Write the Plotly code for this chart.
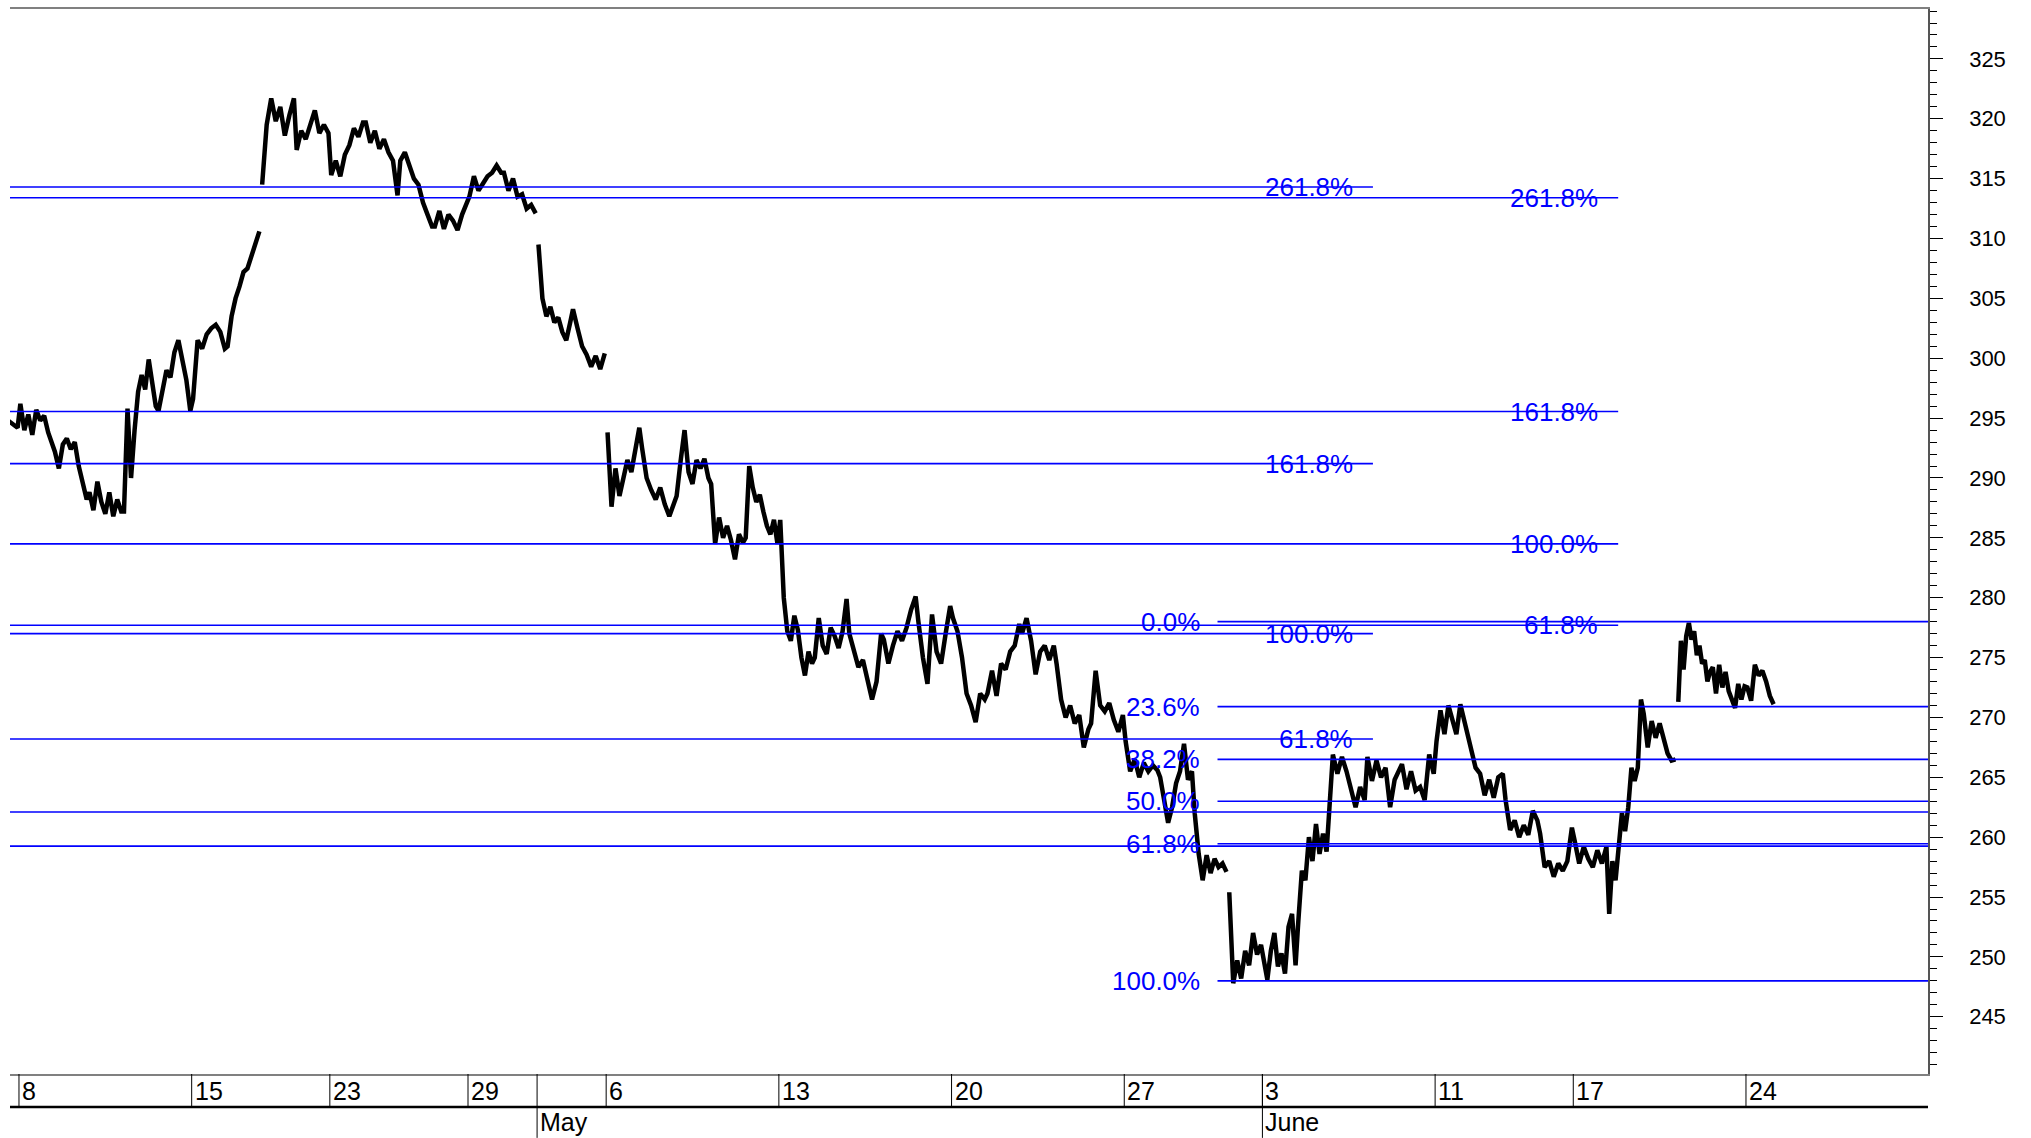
import plotly.graph_objects as go
from datetime import date

# ---------------- data ----------------
trading_days = [
    "2019-04-05", "2019-04-08", "2019-04-09", "2019-04-10", "2019-04-11", "2019-04-12",
    "2019-04-15", "2019-04-16", "2019-04-17", "2019-04-18",
    "2019-04-23", "2019-04-24", "2019-04-25", "2019-04-26",
    "2019-04-29", "2019-04-30", "2019-05-02", "2019-05-03",
    "2019-05-06", "2019-05-07", "2019-05-08", "2019-05-09", "2019-05-10",
    "2019-05-13", "2019-05-14", "2019-05-15", "2019-05-16", "2019-05-17",
    "2019-05-20", "2019-05-21", "2019-05-22", "2019-05-23", "2019-05-24",
    "2019-05-27", "2019-05-28", "2019-05-29", "2019-05-31",
    "2019-06-03", "2019-06-04", "2019-06-05", "2019-06-06", "2019-06-07",
    "2019-06-11", "2019-06-12", "2019-06-13", "2019-06-14",
    "2019-06-17", "2019-06-18", "2019-06-19", "2019-06-20", "2019-06-21",
    "2019-06-24", "2019-06-25", "2019-06-26", "2019-06-27", "2019-06-28",
]

# intraday price path, one list per session
week_apr05 = [[294.6, 295.2, 294.2]]
week_apr08 = [
    [296.2, 294.0, 295.3, 293.6, 295.7, 294.8, 295.2, 293.8, 293.0],
    [292.2, 290.8, 292.8, 293.3, 292.4, 293.0, 291.0, 289.6, 288.2],
    [288.8, 287.3, 289.7, 288.0, 287.0, 288.8, 286.8, 288.2, 287.2],
    [287.2, 295.8, 290.0, 294.0, 297.2, 298.6, 297.4, 299.9, 298.2, 296.0],
    [295.6, 297.5, 299.0, 298.4, 300.5, 301.5, 300.0, 298.2, 295.6],
]
week_apr15 = [
    [296.6, 301.5, 300.8, 302.0, 302.5, 302.8, 302.2, 300.8],
    [301.0, 303.5, 305.0, 306.0, 307.2, 307.5, 308.6, 309.5, 310.6],
    [314.5, 319.5, 321.7, 319.8, 321.0, 318.6, 320.3, 321.7],
    [317.4, 319.0, 318.3, 319.5, 320.7, 318.8, 319.5, 318.8],
]
week_apr23 = [
    [315.3, 316.5, 315.2, 317.0, 317.8, 319.2, 318.5, 319.7],
    [319.7, 318.0, 319.0, 317.5, 318.3, 317.2, 316.5, 313.6],
    [316.5, 317.2, 316.0, 315.0, 314.5, 313.0, 312.0, 311.0],
    [311.0, 312.3, 310.8, 312.0, 311.5, 310.7, 312.0, 312.8],
]
week_apr29 = [
    [313.5, 315.2, 314.0, 314.6, 315.2, 315.5, 316.1, 315.5],
    [315.5, 314.0, 315.0, 313.5, 313.7, 312.5, 312.8, 312.1],
    [309.5, 305.0, 303.5, 304.3, 303.0, 303.4, 302.2, 301.5, 303.0],
    [304.1, 302.5, 301.0, 300.3, 299.3, 300.2, 299.1, 300.4],
]
week_may06 = [
    [293.8, 287.6, 290.8, 288.5, 290.0, 291.5, 290.5, 292.5, 294.2],
    [292.5, 290.0, 289.0, 288.2, 289.2, 287.8, 286.8, 288.0],
    [288.5, 291.4, 294.0, 290.5, 289.5, 291.5, 290.8, 291.6, 290.0],
    [289.5, 284.5, 286.7, 285.0, 286.0, 284.8, 283.2, 285.3, 284.6],
    [285.0, 291.0, 289.2, 288.0, 288.6, 287.2, 286.0, 285.3, 286.5, 284.5],
]
week_may13 = [
    [286.5, 280.0, 277.2, 276.4, 278.5, 277.3, 275.0, 273.5, 275.5, 274.5],
    [275.0, 278.3, 276.0, 275.3, 277.5, 276.8, 275.8, 277.2, 279.9],
    [277.0, 275.5, 274.2, 274.8, 273.3, 271.5, 273.0, 277.0],
    [276.5, 274.5, 276.0, 277.2, 276.4, 277.5, 279.0, 280.1],
    [278.0, 275.0, 272.8, 278.6, 275.5, 274.5, 277.0, 279.3],
]
week_may20 = [
    [278.3, 277.2, 275.0, 272.0, 271.0, 269.6, 272.0, 271.5],
    [272.0, 273.9, 271.8, 274.5, 274.0, 275.5, 276.0, 277.8],
    [277.0, 278.3, 276.4, 273.6, 275.5, 276.0, 274.8, 276.0],
    [274.5, 271.5, 270.0, 271.0, 269.5, 270.2, 267.5, 269.0],
    [269.5, 273.9, 271.0, 270.5, 271.2, 269.8, 268.8, 270.2],
]
week_may27 = [
    [268.0, 265.5, 266.5, 265.0, 266.2, 265.5, 266.0, 265.6],
    [265.0, 263.0, 261.2, 262.5, 264.5, 265.5, 267.8, 264.8, 265.5],
    [262.0, 258.6, 256.4, 258.5, 257.0, 258.2, 257.5, 257.8, 257.1],
    [255.4, 247.8, 249.7, 248.2, 250.5, 249.3, 252.0, 250.2, 251.0],
]
week_jun03 = [
    [249.7, 248.1, 250.5, 252.0, 249.2, 250.3, 248.6, 252.5, 253.6, 249.3],
    [253.0, 257.2, 256.4, 260.0, 258.0, 261.1, 258.6, 260.3, 258.8, 263.3],
    [266.9, 265.3, 266.7, 265.5, 264.0, 262.5, 264.2, 263.1],
    [266.7, 264.7, 266.4, 265.0, 265.8, 262.5, 264.8, 265.5],
    [266.1, 264.0, 265.5, 263.9, 264.2, 263.1, 266.9, 265.3],
]
week_jun11 = [
    [268.0, 270.6, 268.6, 271.0, 269.7, 268.6, 271.1, 269.7, 268.1],
    [267.5, 265.8, 265.3, 263.5, 264.8, 263.3, 265.0, 265.3],
    [263.1, 260.6, 261.4, 260.0, 261.0, 260.2, 262.2, 261.4],
    [260.3, 257.5, 258.0, 256.7, 257.8, 257.2, 258.0, 260.8],
]
week_jun17 = [
    [259.7, 257.8, 259.2, 258.2, 257.5, 258.9, 257.8, 259.2],
    [253.6, 258.0, 256.4, 259.7, 262.0, 260.5, 262.5, 265.8, 264.7, 265.8, 271.5],
    [270.3, 267.5, 269.7, 268.3, 269.5, 268.3, 267.0, 266.4, 266.5],
    [271.3, 276.4, 274.0, 276.8, 277.9, 276.5, 277.2, 275.2, 276.0, 274.5, 274.8, 273.0, 273.8],
    [274.2, 272.0, 274.4, 272.5, 273.8, 272.2, 271.5, 270.8, 272.8, 271.5, 272.6],
]
week_jun24 = [
    [272.5, 271.4, 274.4, 273.5, 273.9, 273.0, 271.8, 271.1],
]

# sessions that open with a price gap (line not joined to the previous session)
gap_open_days = ["2019-04-17", "2019-05-02", "2019-05-06", "2019-05-31", "2019-06-20"]
# last session is incomplete
session_end_fraction = {"2019-06-24": 0.80}

# Fibonacci projection set 1 (ends on 6 June)
ext1_levels = [268.2, 277.0, 291.2, 314.3]
ext1_labels = ["61.8%", "100.0%", "161.8%", "261.8%"]
ext1_end = ("2019-06-06", 0.2)
# Fibonacci projection set 2 (ends on 18 June)
ext2_levels = [277.7, 284.5, 295.55, 313.4]
ext2_labels = ["61.8%", "100.0%", "161.8%", "261.8%"]
ext2_end = ("2019-06-18", 0.3)
# Fibonacci retracement (from 29 May to the right edge)
retr_levels = [278.0, 270.9, 266.5, 263.0, 259.45, 248.0]
retr_labels = ["0.0%", "23.6%", "38.2%", "50.0%", "61.8%", "100.0%"]
retr_start = ("2019-05-29", 0.7)
# plain horizontal lines across the whole chart
hline_levels = [262.1, 259.25]

# ---------------- build ----------------
price_weeks = [week_apr05, week_apr08, week_apr15, week_apr23, week_apr29, week_may06,
               week_may13, week_may20, week_may27, week_jun03, week_jun11, week_jun17, week_jun24]
day_prices = [d for wk in price_weeks for d in wk]

xs, ys = [], []
for k, (day, vals) in enumerate(zip(trading_days, day_prices)):
    if day in gap_open_days:
        xs.append(None)
        ys.append(None)
    end = session_end_fraction.get(day, 0.96)
    n = len(vals)
    for j, v in enumerate(vals):
        xs.append(k + 0.04 + (end - 0.04) * j / (n - 1))
        ys.append(v)


def pos(anchor):
    d, frac = anchor
    return trading_days.index(d) + frac


X_RANGE = [0.74, 56.27]
Y_RANGE = [240.22, 329.17]
W, H = 2031, 1138
M_L, M_R, M_T, M_B = 10, 103, 7, 64
PLOT_H = H - M_T - M_B
ROW1 = 33  # px height of first date row

FONT = "Liberation Sans, Arial, Helvetica, sans-serif"
BLUE = "#0000FF"

fig = go.Figure()
fig.add_trace(go.Scatter(x=xs, y=ys, mode="lines", connectgaps=False,
                         line=dict(color="black", width=4.5), hoverinfo="skip",
                         showlegend=False))

shapes = []
annotations = []


def hline(x0, x1, y):
    shapes.append(dict(type="line", xref="x", yref="y", x0=x0, x1=x1, y0=y, y1=y,
                       line=dict(color=BLUE, width=1.6), layer="above"))


def flabel(x, y, text, xshift):
    annotations.append(dict(x=x, y=y, xref="x", yref="y", text=text, showarrow=False,
                            xanchor="right", yanchor="middle", xshift=xshift,
                            font=dict(family=FONT, size=26, color=BLUE)))


for lv in hline_levels:
    hline(X_RANGE[0], X_RANGE[1], lv)
for lv, lb in zip(ext1_levels, ext1_labels):
    hline(X_RANGE[0], pos(ext1_end), lv)
    flabel(pos(ext1_end), lv, lb, -18)
for lv, lb in zip(ext2_levels, ext2_labels):
    hline(X_RANGE[0], pos(ext2_end), lv)
    flabel(pos(ext2_end), lv, lb, -18)
for lv, lb in zip(retr_levels, retr_labels):
    hline(pos(retr_start), X_RANGE[1], lv)
    flabel(pos(retr_start), lv, lb, -16)

# ---- two-row date axis ----
row1_paper = -ROW1 / PLOT_H
bottom_paper = -M_B / PLOT_H
prev = None
for k, d in enumerate(trading_days):
    dt = date.fromisoformat(d)
    if prev is not None:
        new_week = dt.isocalendar()[1] != prev.isocalendar()[1]
        new_month = dt.month != prev.month
        if new_week:
            shapes.append(dict(type="line", xref="x", yref="paper", x0=k, x1=k,
                               y0=0, y1=row1_paper, line=dict(color="black", width=1)))
            annotations.append(dict(x=k, y=0, xref="x", yref="paper", text=str(dt.day),
                                    showarrow=False, xanchor="left", yanchor="middle",
                                    xshift=1, yshift=-ROW1 / 2 - 0.5,
                                    font=dict(family=FONT, size=25, color="black")))
        if new_month:
            shapes.append(dict(type="line", xref="x", yref="paper", x0=k, x1=k,
                               y0=0, y1=bottom_paper, line=dict(color="black", width=1)))
            annotations.append(dict(x=k, y=0, xref="x", yref="paper", text=dt.strftime("%B"),
                                    showarrow=False, xanchor="left", yanchor="middle",
                                    xshift=1, yshift=-ROW1 - 15,
                                    font=dict(family=FONT, size=25, color="black")))
    prev = dt

shapes.append(dict(type="line", xref="paper", yref="paper", x0=0, x1=1,
                   y0=row1_paper, y1=row1_paper, line=dict(color="black", width=2.5)))

fig.update_layout(
    width=W, height=H,
    margin=dict(l=M_L, r=M_R, t=M_T, b=M_B),
    paper_bgcolor="white", plot_bgcolor="white",
    font=dict(family=FONT, color="black"),
    showlegend=False,
    shapes=shapes,
    annotations=annotations,
    xaxis=dict(range=X_RANGE, showgrid=False, zeroline=False, showticklabels=False,
               ticks="", showline=True, linecolor="#808080", linewidth=2, mirror=True,
               fixedrange=True),
    yaxis=dict(range=Y_RANGE, side="right", showgrid=False, zeroline=False,
               showline=True, linecolor="#555555", linewidth=1.5,
               ticks="outside", ticklen=13, tickwidth=1.2, tickcolor="black",
               tick0=0, dtick=5, tickfont=dict(family=FONT, size=22, color="black"),
               ticklabelstandoff=22,
               minor=dict(ticks="outside", ticklen=7, tickwidth=1.2, tickcolor="black",
                          dtick=1, showgrid=False),
               fixedrange=True),
)

fig.write_html("out.html", config={"displayModeBar": False},
               post_script="document.body.style.margin='0';document.body.style.overflow='hidden';")
